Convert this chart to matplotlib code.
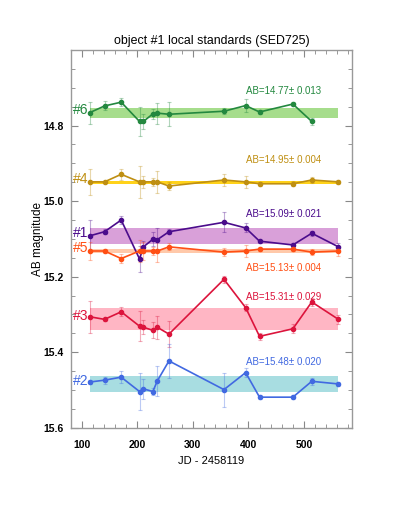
import matplotlib
matplotlib.use("Agg")
import matplotlib.pyplot as plt
from matplotlib.ticker import MultipleLocator

plt.rcParams['font.family'] = ['Liberation Sans', 'DejaVu Sans']

JD = [114, 141, 171, 204, 211, 228, 236, 257, 356, 395, 420, 480, 514, 562]

MAG_6 = [14.766, 14.748, 14.738, 14.789, 14.789, 14.769, 14.767, 14.770, 14.762, 14.747, 14.764, 14.743, 14.789]
ERR_6 = [0.029, 0.012, 0.011, 0.038, 0.020, 0.013, 0.028, 0.032, 0.008, 0.018, 0.005, 0.005, 0.009]

MAG_4 = [14.949, 14.949, 14.929, 14.949, 14.949, 14.949, 14.949, 14.960, 14.944, 14.949, 14.954, 14.954, 14.944, 14.949]
ERR_4 = [0.035, 0.003, 0.014, 0.042, 0.015, 0.011, 0.029, 0.011, 0.015, 0.016, 0.005, 0.007, 0.009, 0.005]

MAG_1 = [15.092, 15.081, 15.050, 15.153, 15.121, 15.101, 15.102, 15.081, 15.056, 15.071, 15.106, 15.116, 15.085, 15.121]
ERR_1 = [0.042, 0.007, 0.011, 0.034, 0.015, 0.018, 0.030, 0.006, 0.027, 0.012, 0.004, 0.006, 0.007, 0.010]

MAG_5 = [15.132, 15.132, 15.152, 15.132, 15.132, 15.132, 15.132, 15.121, 15.135, 15.132, 15.127, 15.127, 15.135, 15.132]
ERR_5 = [0.024, 0.004, 0.012, 0.030, 0.024, 0.011, 0.028, 0.009, 0.010, 0.015, 0.005, 0.006, 0.007, 0.013]

MAG_3 = [15.306, 15.313, 15.293, 15.331, 15.334, 15.342, 15.334, 15.352, 15.207, 15.282, 15.358, 15.338, 15.267, 15.313]
ERR_3 = [0.042, 0.004, 0.012, 0.040, 0.019, 0.021, 0.030, 0.035, 0.010, 0.009, 0.009, 0.012, 0.010, 0.011]

MAG_2 = [15.479, 15.474, 15.466, 15.504, 15.497, 15.504, 15.476, 15.423, 15.499, 15.454, 15.519, 15.519, 15.477, 15.484]
ERR_2 = [0.006, 0.009, 0.015, 0.050, 0.027, 0.010, 0.040, 0.044, 0.045, 0.011, 0.006, 0.006, 0.010, 0.005]

NAMES = ["#6", "#4", "#1", "#5", "#3", "#2"]
AB_MEAN = [14.766, 14.950, 15.093, 15.132, 15.313, 15.484]
AB_ERR = [0.013, 0.004, 0.021, 0.004, 0.029, 0.020]
LINE_COLORS = ["#23883f", "#bf8f12", "#4b0c8c", "#ff4f14", "#dc143c", "#4169e1"]
BAND_COLORS = ["#a6dd8c", "#ffd21a", "#d9a0d9", "#ffc9aa", "#ffb6c4", "#a8dde1"]
Y_TICKS = [14.8, 15.0, 15.2, 15.4, 15.6]

series = [(MAG_6, ERR_6), (MAG_4, ERR_4), (MAG_1, ERR_1),
          (MAG_5, ERR_5), (MAG_3, ERR_3), (MAG_2, ERR_2)]

fig = plt.figure(figsize=(3.99, 5.16), dpi=100)
ax = fig.add_axes([0.177, 0.171, 0.706, 0.732])

for i, (mag, err) in enumerate(series):
    jd = JD[:len(mag)]
    lc = LINE_COLORS[i]
    ax.fill_between([JD[0], JD[-1]], AB_MEAN[i] - AB_ERR[i], AB_MEAN[i] + AB_ERR[i],
                    color=BAND_COLORS[i], lw=0, zorder=1)
    ax.errorbar(jd, mag, yerr=err, fmt='none', ecolor=lc, alpha=0.35,
                elinewidth=0.8, capsize=1.5, capthick=0.8, zorder=2)
    ax.plot(jd, mag, '-o', color=lc, lw=1.2, ms=3.0, zorder=3)
    ax.text(84, AB_MEAN[i] - 0.008, NAMES[i], color=lc, fontsize=10,
            ha='left', va='center', zorder=4)
    label = "AB=%.2f\u00b1 %.3f" % (AB_MEAN[i], AB_ERR[i])
    if NAMES[i] == "#5":
        ty = AB_MEAN[i] + 0.045
    else:
        ty = AB_MEAN[i] - 0.058
    ax.text(396, ty, label, color=lc, fontsize=7, ha='left', va='center')

ax.set_xlim(80, 587)
ax.set_ylim(15.6, 14.6)
ax.xaxis.set_major_locator(MultipleLocator(100))
ax.xaxis.set_minor_locator(MultipleLocator(20))
ax.set_yticks(Y_TICKS)
ax.yaxis.set_minor_locator(MultipleLocator(0.05))
ax.tick_params(which='both', direction='in', top=True, right=True,
               color='#888888', labelsize=7.5)
ax.tick_params(which='major', length=5, width=0.8)
ax.tick_params(which='minor', length=3, width=0.6)
ax.tick_params(axis='x', pad=9)
ax.tick_params(axis='y', pad=5)
for lab in ax.get_xticklabels() + ax.get_yticklabels():
    lab.set_fontweight('bold')
for s in ax.spines.values():
    s.set_color('#999999')
    s.set_linewidth(1.0)

ax.set_xlabel("JD - 2458119", fontsize=8, labelpad=4)
ax.set_ylabel("AB magnitude", fontsize=8.5)
ax.yaxis.set_label_coords(-0.095, 0.5)
ax.set_title("object #1 local standards (SED725)", fontsize=8.9, pad=4)

fig.savefig("out.png", dpi=100)
